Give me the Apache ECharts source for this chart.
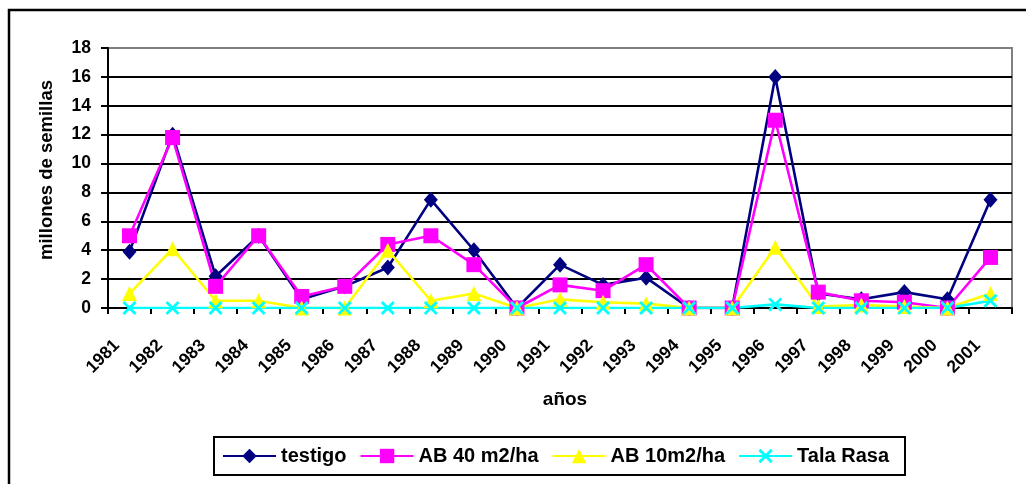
<!DOCTYPE html>
<html>
<head>
<meta charset="utf-8">
<script src="https://cdn.jsdelivr.net/npm/echarts@6/dist/echarts.min.js"></script>
<style>
html,body{margin:0;padding:0;background:#fff;}
#c{width:1026px;height:484px;}
</style>
</head>
<body>
<div id="c"></div>
<script>
const years = ['1981','1982','1983','1984','1985','1986','1987','1988','1989','1990','1991','1992','1993','1994','1995','1996','1997','1998','1999','2000','2001'];
const testigo = [3.9, 12, 2.2, 5, 0.6, 1.5, 2.8, 7.5, 4, 0, 3, 1.6, 2.1, 0, 0, 16, 1, 0.6, 1.1, 0.6, 7.5];
const ab40 = [5, 11.8, 1.5, 5, 0.8, 1.5, 4.4, 5, 3, 0, 1.6, 1.2, 3, 0, 0, 13, 1.1, 0.5, 0.4, 0, 3.5];
const ab10 = [1, 4.1, 0.5, 0.5, 0, 0, 4, 0.5, 1, 0, 0.6, 0.4, 0.3, 0, 0, 4.2, 0.1, 0.2, 0.1, 0, 1];
const talaRasa = [0, 0, 0, 0, 0, 0, 0, 0, 0, 0, 0, 0, 0, 0, 0, 0.25, 0, 0, 0, 0, 0.5];
const seriesNames = ['testigo', 'AB 40 m2/ha', 'AB 10m2/ha', 'Tala Rasa'];
const yTitle = 'millones de semillas';
const xTitle = 'años';

const FONT = '"Liberation Sans", Arial, sans-serif';
const xSymbol = 'path://M0,1.4 L1.4,0 L5,3.6 L8.6,0 L10,1.4 L6.4,5 L10,8.6 L8.6,10 L5,6.4 L1.4,10 L0,8.6 L3.6,5 Z';

const chart = echarts.init(document.getElementById('c'), null, {renderer: 'canvas'});
function mk(name, data, color, symbol, size) {
  return {
    name: name, type: 'line', data: data,
    symbol: symbol, symbolSize: size, showAllSymbol: true,
    lineStyle: {color: color, width: 2.6},
    itemStyle: {color: color},
    emphasis: {disabled: true},
    animation: false
  };
}
chart.setOption({
  backgroundColor: '#fff',
  animation: false,
  textStyle: {fontFamily: FONT},
  grid: {left: 108, right: 14, top: 48, bottom: 176, show: true, borderColor: '#808080', borderWidth: 2, outerBoundsMode: 'none', containLabel: false},
  xAxis: {
    type: 'category', data: years, boundaryGap: true,
    axisLine: {lineStyle: {color: '#000', width: 2}},
    axisTick: {show: true, interval: 0, length: 6, lineStyle: {color: '#000', width: 2}},
    axisLabel: {interval: 0, rotate: 45, margin: 22, color: '#000', fontWeight: 'bold', fontSize: 17.5, fontFamily: FONT, hideOverlap: false, padding: [0, 18, 0, 0]},
    splitLine: {show: false}
  },
  yAxis: {
    type: 'value', min: 0, max: 18, interval: 2,
    axisLine: {show: true, lineStyle: {color: '#000', width: 2}},
    axisTick: {show: true, length: 7, lineStyle: {color: '#000', width: 2}},
    axisLabel: {color: '#000', fontWeight: 'bold', fontSize: 17.5, fontFamily: FONT, margin: 17},
    splitLine: {show: true, showMaxLine: false, lineStyle: {color: '#000', width: 2}}
  },
  legend: {
    data: seriesNames,
    left: 214, top: 437,
    orient: 'horizontal',
    itemWidth: 53, itemHeight: 18, itemGap: 13,
    padding: [9, 16, 9, 8],
    borderColor: '#000', borderWidth: 2,
    textStyle: {color: '#000', fontWeight: 'bold', fontSize: 20, fontFamily: FONT},
    selectedMode: false
  },
  graphic: [
    {type: 'rect', shape: {x: 9, y: 10, width: 1100, height: 600}, style: {fill: 'none', stroke: '#000', lineWidth: 2.5}, silent: true, z: 100},
    {type: 'text', x: 47, y: 170, rotation: Math.PI / 2, style: {text: yTitle, fill: '#000', font: 'bold 18.5px ' + FONT, textAlign: 'center', textVerticalAlign: 'middle'}},
    {type: 'text', x: 565, y: 400, style: {text: xTitle, fill: '#000', font: 'bold 19px ' + FONT, textAlign: 'center', textVerticalAlign: 'middle'}}
  ],
  series: [
    mk(seriesNames[0], testigo, '#000080', 'diamond', [14, 16]),
    mk(seriesNames[1], ab40, '#FF00FF', 'rect', 15),
    mk(seriesNames[2], ab10, '#FFFF00', 'triangle', 15),
    mk(seriesNames[3], talaRasa, '#00FFFF', xSymbol, 14)
  ]
});
</script>
</body>
</html>
